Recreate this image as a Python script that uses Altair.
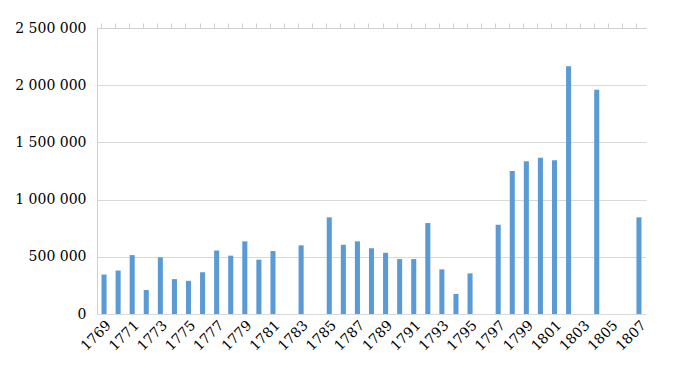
import altair as alt
import pandas as pd

years = list(range(1769, 1808))
values = [345000, 380000, 515000, 210000, 495000, 305000, 290000, 365000, 555000, 510000,
          635000, 475000, 550000, None, 600000, None, 845000, 605000, 635000, 575000,
          535000, 480000, 480000, 795000, 390000, 175000, 355000, None, 780000, 1250000,
          1335000, 1365000, 1345000, 2165000, None, 1960000, None, None, 845000]
y_ticks = [0, 500000, 1000000, 1500000, 2000000, 2500000]

df = pd.DataFrame({"year": [str(y) for y in years], "value": values})

FONT = "DejaVu Serif"
x_scale = alt.Scale(paddingInner=0.64, paddingOuter=0.32)
y_scale = alt.Scale(domain=[0, 2500000], nice=False)
y_axis = alt.Axis(title=None, values=y_ticks, ticks=False, domain=True,
                  domainColor="#d0d0d0", grid=True, gridColor="#d9d9d9",
                  labelExpr="replace(format(datum.value, ','), regexp(',', 'g'), ' ')",
                  labelPadding=11)
sort_order = [str(y) for y in years]

bars = alt.Chart(df).mark_bar(color="#5B9BD5").encode(
    x=alt.X("year:O", sort=sort_order, scale=x_scale,
            axis=alt.Axis(title=None, labelAngle=-45, ticks=False, domain=False, grid=False,
                          labelExpr="(parseInt(datum.value) - 1769) % 2 == 0 ? datum.label : ''",
                          labelPadding=4)),
    y=alt.Y("value:Q", scale=y_scale, axis=y_axis),
)

ticks_layer = alt.Chart(df).mark_bar(opacity=0).encode(
    x=alt.X("year:O", sort=sort_order, scale=x_scale,
            axis=alt.Axis(title=None, labels=False, bandPosition=0, ticks=True,
                          tickSize=5, tickColor="#d0d0d0", domain=True,
                          domainColor="#d0d0d0", grid=False)),
    y=alt.Y("value:Q", scale=y_scale, axis=y_axis),
)

chart = alt.layer(bars, ticks_layer).resolve_axis(x="independent").properties(
    width=549, height=286,
    padding={"left": 6, "top": 13, "right": 5, "bottom": 5},
).configure_view(stroke=None).configure_axis(
    labelFont=FONT, labelFontSize=14, labelColor="#000000"
)

chart.save("out.html", embed_options={"renderer": "svg", "actions": False})
